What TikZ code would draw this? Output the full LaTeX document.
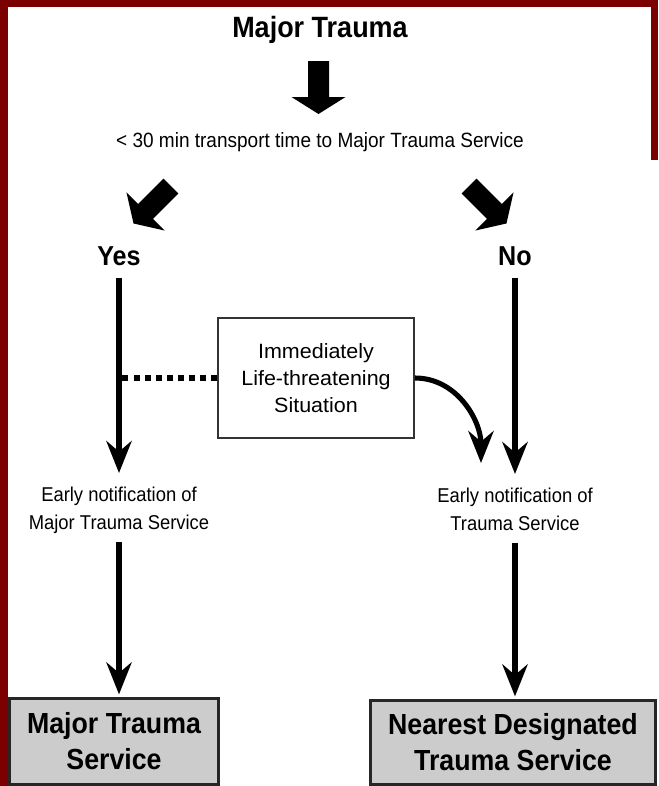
\documentclass[tikz,border=0pt]{standalone}
\usepackage{fontspec}
\setmainfont{Liberation Sans}[FakeStretch=0.92]
\newfontfamily\boxfont{Liberation Sans}[FakeStretch=1.04]
\usepackage{tikz}
\usetikzlibrary{arrows.meta, positioning, calc}
\definecolor{framered}{HTML}{7B0000}
\definecolor{endgray}{HTML}{CCCCCC}

\begin{document}
\begin{tikzpicture}[
  x=0.75pt, y=-0.75pt,
  head/.style={font=\bfseries\fontsize{22}{26}\selectfont, inner sep=0pt, anchor=base},
  answer/.style={font=\bfseries\fontsize{20.5}{24}\selectfont, inner sep=0pt, anchor=base},
  note/.style={font=\fontsize{15}{21}\selectfont, align=center, inner sep=0pt},
  situation/.style={draw=black!80, line width=1.5pt, minimum width=147pt, minimum height=90pt,
    align=center, font=\boxfont\fontsize{15.5}{20.25}\selectfont},
  service/.style={draw=black!85, line width=2.2pt, fill=endgray, align=center, inner sep=0pt,
    font=\bfseries\fontsize{21.8}{27}\selectfont},
  flow/.style={line width=3.8pt, -{Stealth[length=24pt, width=19pt, inset=8pt]}},
  dotline/.style={line width=4.5pt, dash pattern=on 4.5pt off 3.8pt},
  blockarrow/.pic={\fill (-10.5,0) -- (10.5,0) -- (10.5,36) -- (27,36) -- (0,53) -- (-27,36) -- (-10.5,36) -- cycle;},
]
\useasboundingbox (0,0) rectangle (658,786);
\fill[white] (0,0) rectangle (658,786);
% frame
\fill[framered] (0,0) rectangle (8,786);
\fill[framered] (0,0) rectangle (658,7);
\fill[framered] (651,0) rectangle (658,160);

\node[head] (title) at (320,37) {Major Trauma};
\pic (down) at (318.5,61) {blockarrow};
\node[note, font=\fontsize{15.5}{20}\selectfont, anchor=base] (ask) at (320,147) {< 30 min transport time to Major Trauma Service};
\pic[rotate=-45] (toyes) at (171,186) {blockarrow};
\pic[rotate=45] (tono) at (469,186) {blockarrow};

\node[answer] (yes) at (119,265) {Yes};
\node[answer] (no) at (515,265) {No};

\node[situation] (sit) at (316,378) {Immediately\\Life-threatening\\Situation};

\node[note, anchor=north] (ynote) at (119,487) {Early notification of\\Major Trauma Service};
\node[note, anchor=north] (nnote) at (515,488) {Early notification of\\Trauma Service};

\node[service, minimum width=156.75pt, minimum height=64.5pt] (mts) at (114,741.5) {Major Trauma\\Service};
\node[service, minimum width=213.75pt, minimum height=63pt] (ndts) at (513,742.5) {Nearest Designated\\Trauma Service};

% connectors
\draw[flow, shorten <=9pt, shorten >=10.5pt] (yes.south) -- (ynote.north);
\draw[flow, shorten <=9pt, shorten >=10.5pt] (no.south) -- (nnote.north);
\draw[flow, shorten <=6pt, shorten >=2pt] (ynote.south) -- (ynote.south |- mts.north);
\draw[flow, shorten <=9pt, shorten >=2pt] (nnote.south) -- (nnote.south |- ndts.north);
\draw[dotline] (sit.west) -- (sit.west -| yes);
\coordinate (bend) at (481,463);
\draw[flow] (sit.east) to[out=0, in=90] (bend);
\end{tikzpicture}
\end{document}
